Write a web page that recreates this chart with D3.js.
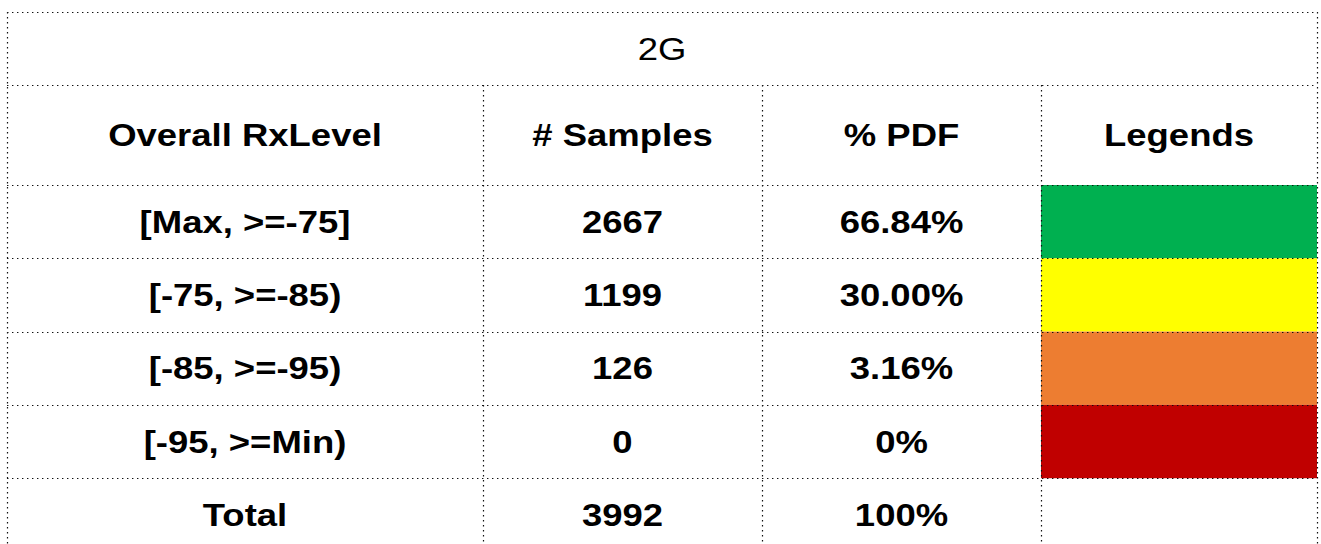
<!DOCTYPE html>
<html>
<head>
<meta charset="utf-8">
<script src="https://cdn.jsdelivr.net/npm/d3@7"></script>
<style>
html,body{margin:0;padding:0;background:#fff;}
svg{display:block;}
</style>
</head>
<body>
<svg id="chart" width="1321" height="544"></svg>
<script>
const title = "2G";
const headers = ["Overall RxLevel", "# Samples", "% PDF", "Legends"];
const categories = ["[Max, >=-75]", "[-75, >=-85)", "[-85, >=-95)", "[-95, >=Min)", "Total"];
const samples = ["2667", "1199", "126", "0", "3992"];
const pdf = ["66.84%", "30.00%", "3.16%", "0%", "100%"];
const legendColors = ["#00B050", "#FFFF00", "#ED7D31", "#C00000", null];

(function () {
const svg = d3.select("#chart");
const leftX = 7, rightX = 1317, topY = 12;
const titleH = 73, headerH = 100, rowH = 73.3;
const colEdges = [7, 483, 762, 1041, 1317];
const fontSize = 32, sx = 1.14;

const rowsTop = topY + titleH + headerH;
const y = d3.scaleBand().domain(d3.range(categories.length))
  .range([rowsTop, rowsTop + rowH * categories.length]).padding(0);
const x = d3.scaleOrdinal().domain(d3.range(4)).range(colEdges.slice(0, 4));
const w = i => colEdges[i + 1] - colEdges[i];
const cx = i => (colEdges[i] + colEdges[i + 1]) / 2;

// legend fills
svg.append("g").selectAll("rect").data(legendColors.map((c, i) => ({c, i})).filter(d => d.c))
  .join("rect")
  .attr("x", x(3)).attr("y", d => y(d.i))
  .attr("width", w(3)).attr("height", y.bandwidth())
  .attr("fill", d => d.c);

// grid lines
const lines = svg.append("g").attr("stroke", "#111").attr("stroke-width", 1.2)
  .attr("stroke-dasharray", "1.4,3.6").attr("fill", "none");
const bottomY = rowsTop + rowH * categories.length;
const hY = [topY, topY + titleH, rowsTop].concat(d3.range(1, categories.length + 1).map(i => rowsTop + rowH * i));
hY.forEach(yy => lines.append("line").attr("x1", leftX).attr("x2", rightX).attr("y1", Math.round(yy) + 0.5).attr("y2", Math.round(yy) + 0.5));
lines.append("line").attr("x1", leftX + 0.5).attr("x2", leftX + 0.5).attr("y1", topY).attr("y2", bottomY);
lines.append("line").attr("x1", rightX + 0.5).attr("x2", rightX + 0.5).attr("y1", topY).attr("y2", bottomY);
colEdges.slice(1, 4).forEach(xx => lines.append("line").attr("x1", xx + 0.5).attr("x2", xx + 0.5).attr("y1", topY + titleH).attr("y2", bottomY));

function txt(t, xx, yy, bold) {
  svg.append("text")
    .attr("transform", `translate(${xx},${yy}) scale(${sx},1)`)
    .attr("text-anchor", "middle")
    .attr("dominant-baseline", "central")
    .attr("font-family", "Liberation Sans, Arial, sans-serif")
    .attr("font-size", fontSize)
    .attr("font-weight", bold ? "bold" : "normal")
    .attr("fill", "#000")
    .text(t);
}

txt(title, (leftX + rightX) / 2, topY + titleH / 2, false);
headers.forEach((h, i) => txt(h, cx(i), topY + titleH + headerH / 2, true));
categories.forEach((c, i) => {
  const yy = y(i) + y.bandwidth() / 2;
  txt(c, cx(0), yy, true);
  txt(samples[i], cx(1), yy, true);
  txt(pdf[i], cx(2), yy, true);
});
})();
</script>
</body>
</html>
